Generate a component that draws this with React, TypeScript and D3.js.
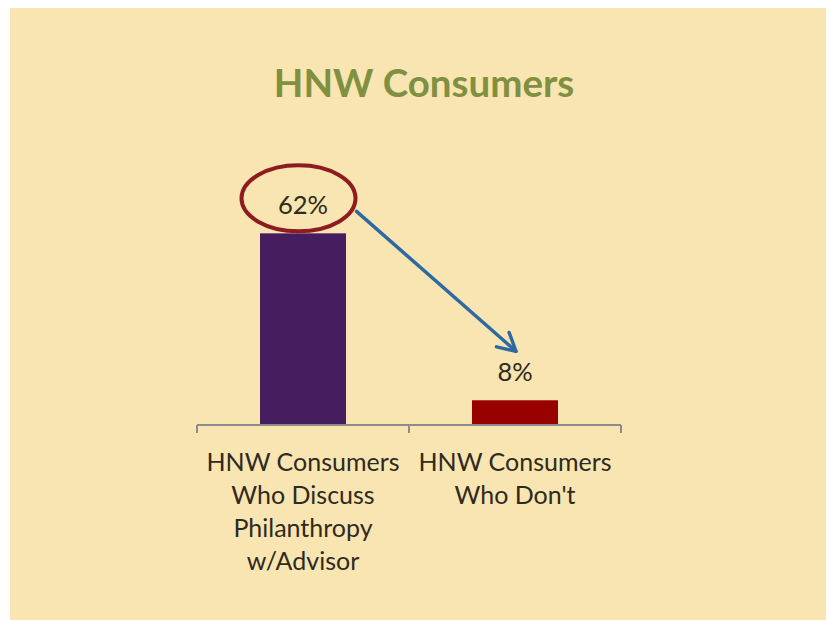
import React from "react";
import * as d3 from "d3";

const categories: string[][] = [
  ["HNW Consumers", "Who Discuss", "Philanthropy", "w/Advisor"],
  ["HNW Consumers", "Who Don't"],
];
const values: number[] = [0.62, 0.08];
const barColors: string[] = ["#461E60", "#990000"];
const title = "HNW Consumers";

const W = 826;
const H = 620;
const FONT = "Lato, 'Open Sans', sans-serif";

export default function App() {
  const x = d3.scaleBand<number>().domain(d3.range(values.length)).range([197, 621]).paddingInner(0).paddingOuter(0);
  const y = d3.scaleLinear().domain([0, 0.7]).range([425, 208.6]);
  const bw = 86;
  const fmt = d3.format(".0%");
  const cx = (i: number) => (x(i) as number) + x.bandwidth() / 2;

  const c0 = cx(0) - 4.5;
  const e0y = y(values[0]) - 35;
  const start = { x: c0 + 58, y: e0y + 13 };
  const end = { x: cx(1) + 1, y: y(values[1]) - 49 };
  const ang = Math.atan2(end.y - start.y, end.x - start.x);
  const hl = 20;
  const ha = 0.5;
  const h1 = { x: end.x - hl * Math.cos(ang - ha), y: end.y - hl * Math.sin(ang - ha) };
  const h2 = { x: end.x - hl * Math.cos(ang + ha), y: end.y - hl * Math.sin(ang + ha) };

  return (
    <svg width={W} height={H} style={{ position: "absolute", left: 0, top: 0 }}>
      <rect x={10} y={8} width={W - 10} height={H - 8} fill="#F9E5B1" />
      <text x={424} y={97} textAnchor="middle" fontFamily={FONT} fontWeight={700} fontSize={38.5} fill="#7F9040">
        {title}
      </text>
      {values.map((v, i) => (
        <rect key={i} x={cx(i) - bw / 2} y={y(v)} width={bw} height={y(0) - y(v)} fill={barColors[i]} />
      ))}
      <g stroke="#8C8C8C" strokeWidth={2} fill="none">
        <line x1={197} x2={621} y1={425} y2={425} />
        {[0, 1, 2].map((k) => {
          const px = k < 2 ? (x(k) as number) : 621;
          return <line key={k} x1={px} x2={px} y1={425} y2={433} />;
        })}
      </g>
      {values.map((v, i) => (
        <text key={i} x={cx(i)} y={y(v) - 19} textAnchor="middle" fontFamily={FONT} fontSize={25.5} fill="#2E2A1E">
          {fmt(v)}
        </text>
      ))}
      {categories.map((lines, i) => (
        <text key={i} textAnchor="middle" fontFamily={FONT} fontSize={25} fill="#2E2A1E">
          {lines.map((l, j) => (
            <tspan key={j} x={cx(i)} y={471 + j * 33}>
              {l}
            </tspan>
          ))}
        </text>
      ))}
      <ellipse cx={c0} cy={e0y} rx={57} ry={33} fill="none" stroke="#8E1B20" strokeWidth={4} />
      <g stroke="#2F69A3" strokeWidth={3.5} fill="none" strokeLinecap="round" strokeLinejoin="round">
        <line x1={start.x} y1={start.y} x2={end.x} y2={end.y} />
        <polyline points={`${h1.x},${h1.y} ${end.x},${end.y} ${h2.x},${h2.y}`} />
      </g>
    </svg>
  );
}
